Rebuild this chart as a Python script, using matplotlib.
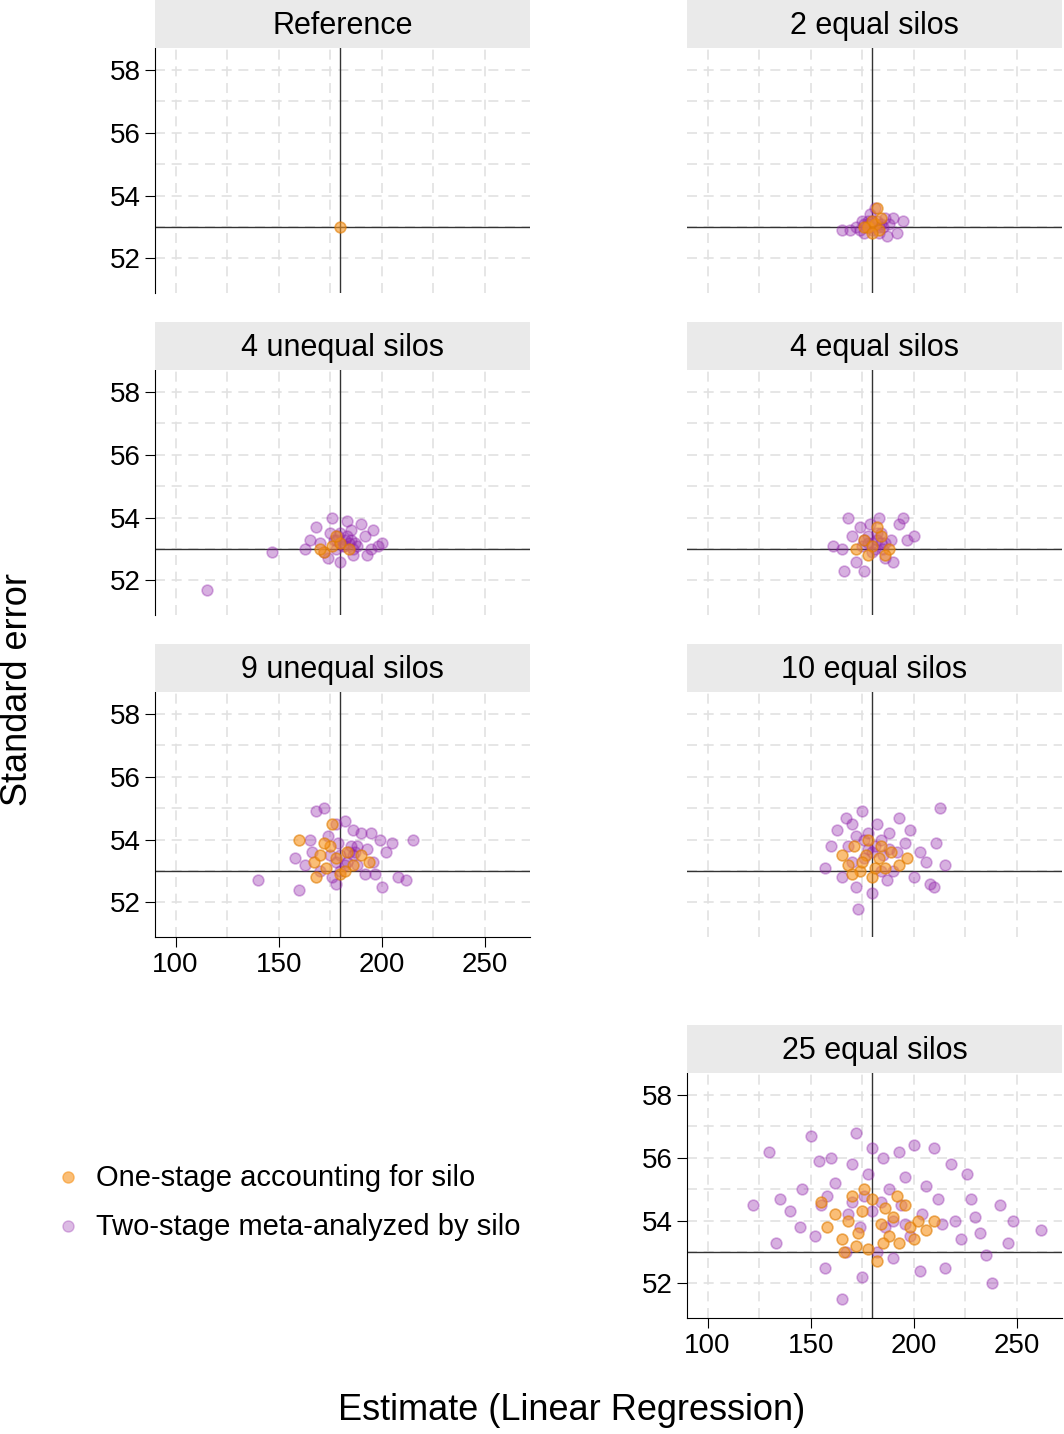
import matplotlib.pyplot as plt

plt.rcParams['font.family'] = ['Liberation Sans', 'DejaVu Sans']

titles = ['Reference', '2 equal silos', '4 unequal silos', '4 equal silos',
          '9 unequal silos', '10 equal silos', '25 equal silos']

# (estimate, standard error)
purple = {
    'Reference': [],
    '2 equal silos': [(172, 53.0), (175, 53.2), (178, 53.1), (180, 52.9), (182, 53.2), (185, 53.0),
                      (188, 53.1), (190, 53.3), (176, 52.8), (183, 52.8), (179, 53.4), (181, 53.6),
                      (169, 52.9), (192, 52.8), (186, 53.3), (174, 52.9), (177, 53.0), (184, 53.1),
                      (165, 52.9), (195, 53.2), (180, 53.0), (178, 53.2), (187, 52.7), (179, 53.0),
                      (181, 53.1), (183, 53.0), (176, 53.1), (180, 53.2)],
    '4 unequal silos': [(170, 53.2), (175, 53.5), (178, 53.0), (182, 53.3), (185, 53.6), (188, 53.1),
                        (192, 53.4), (195, 53.0), (198, 53.1), (168, 53.7), (172, 52.9), (180, 52.6),
                        (186, 52.8), (190, 53.8), (176, 54.0), (183, 53.9), (165, 53.3), (196, 53.6),
                        (174, 52.7), (181, 53.1), (184, 53.2), (179, 53.4), (177, 53.3), (187, 53.2),
                        (147, 52.9), (115, 51.7), (200, 53.2), (163, 53.0), (193, 52.8), (180, 53.2),
                        (182, 53.1), (185, 53.3), (178, 53.3), (183, 53.4), (180, 53.5), (186, 53.0)],
    '4 equal silos': [(165, 53.0), (170, 53.4), (174, 53.7), (178, 53.2), (182, 53.5), (185, 53.0),
                      (189, 53.3), (193, 53.8), (197, 53.3), (200, 53.4), (168, 54.0), (172, 52.6),
                      (176, 52.3), (180, 52.9), (186, 52.7), (190, 52.6), (161, 53.1), (166, 52.3),
                      (195, 54.0), (183, 54.0), (179, 53.8), (175, 53.1), (184, 53.2), (181, 53.0),
                      (180, 53.2), (182, 53.3), (178, 53.4), (184, 53.5), (176, 53.3), (186, 53.2)],
    '9 unequal silos': [(140, 52.7), (160, 52.4), (163, 53.2), (165, 54.0), (168, 54.9), (172, 55.0),
                        (175, 53.5), (178, 54.5), (180, 53.0), (182, 54.6), (185, 53.8), (188, 53.2),
                        (190, 54.2), (193, 53.7), (196, 53.3), (199, 54.0), (202, 53.6), (205, 53.9),
                        (208, 52.8), (212, 52.7), (215, 54.0), (200, 52.5), (178, 52.6), (170, 53.0),
                        (158, 53.4), (186, 54.3), (192, 52.9), (174, 54.1), (183, 53.3), (176, 52.8),
                        (195, 54.2), (166, 53.6), (187, 53.6), (179, 53.9), (197, 52.9), (180, 53.5),
                        (184, 53.6), (182, 53.2), (188, 53.8), (178, 53.3), (186, 53.5)],
    '10 equal silos': [(157, 53.1), (160, 53.8), (163, 54.3), (167, 54.7), (170, 53.3), (172, 52.5),
                       (175, 54.9), (178, 53.7), (180, 52.3), (182, 54.5), (185, 53.5), (188, 54.2),
                       (190, 53.0), (193, 54.7), (196, 53.9), (200, 52.8), (203, 53.6), (206, 53.3),
                       (210, 52.5), (213, 55.0), (215, 53.2), (173, 51.8), (165, 52.8), (178, 54.2),
                       (184, 53.0), (192, 53.6), (168, 53.8), (198, 54.3), (176, 53.4), (187, 52.7),
                       (181, 53.8), (170, 54.5), (208, 52.6), (211, 53.9), (180, 53.6), (184, 54.0),
                       (176, 54.0), (188, 53.7), (172, 54.1)],
    '25 equal silos': [(122, 54.5), (130, 56.2), (133, 53.3), (140, 54.3), (146, 55.0), (150, 56.7),
                       (152, 53.5), (155, 54.5), (157, 52.5), (160, 56.0), (162, 55.2), (165, 51.5),
                       (167, 53.0), (170, 55.8), (172, 56.8), (175, 52.2), (178, 55.5), (180, 56.3),
                       (182, 53.0), (185, 56.0), (188, 55.0), (190, 52.8), (193, 56.2), (196, 55.4),
                       (198, 53.5), (200, 56.4), (203, 52.4), (206, 55.1), (210, 56.3), (212, 54.7),
                       (215, 52.5), (218, 55.8), (220, 54.0), (223, 53.4), (226, 55.5), (230, 54.1),
                       (235, 52.9), (238, 52.0), (242, 54.5), (246, 53.3), (248, 54.0), (262, 53.7),
                       (145, 53.8), (158, 54.8), (168, 54.2), (176, 54.8), (186, 53.8), (194, 54.5),
                       (204, 54.2), (214, 53.9), (228, 54.7), (232, 53.6), (135, 54.7), (154, 55.9),
                       (180, 54.3), (184, 54.6), (190, 54.0), (174, 53.8), (196, 53.9), (170, 54.6)],
}

orange = {
    'Reference': [(180, 53.0)],
    '2 equal silos': [(178, 53.0), (181, 53.1), (183, 52.9), (180, 53.2), (176, 53.0), (184, 53.3),
                      (182, 53.6), (180, 52.8)],
    '4 unequal silos': [(172, 52.9), (176, 53.1), (180, 53.2), (184, 53.0), (178, 53.4), (170, 53.0)],
    '4 equal silos': [(172, 53.0), (176, 53.3), (180, 53.1), (184, 53.4), (188, 53.0), (178, 52.8),
                      (182, 53.7), (186, 52.8)],
    '9 unequal silos': [(160, 54.0), (167, 53.3), (170, 53.5), (173, 53.1), (176, 54.5), (178, 53.4),
                        (180, 52.9), (183, 53.6), (186, 53.2), (190, 53.5), (194, 53.3), (168, 52.8),
                        (175, 53.8), (182, 53.0), (172, 53.9)],
    '10 equal silos': [(165, 53.5), (168, 53.2), (171, 53.8), (174, 53.0), (177, 53.5), (180, 52.8),
                       (183, 53.4), (186, 53.1), (189, 53.6), (193, 53.2), (197, 53.4), (170, 52.9),
                       (178, 54.0), (184, 53.8), (175, 53.3), (181, 53.1)],
    '25 equal silos': [(155, 54.6), (158, 53.8), (162, 54.2), (165, 53.4), (168, 54.0), (170, 54.8),
                       (173, 53.6), (175, 54.3), (178, 53.1), (180, 54.7), (182, 52.7), (184, 53.9),
                       (186, 54.4), (188, 53.5), (190, 54.1), (193, 53.3), (196, 54.5), (198, 53.8),
                       (202, 54.0), (206, 53.7), (210, 54.0), (176, 55.0), (166, 53.0), (185, 53.3),
                       (192, 54.8), (172, 53.2), (200, 53.4)],
}

ref_x, ref_y = 180, 53
xticks = [100, 150, 200, 250]
yticks = [52, 54, 56, 58]

purple_c = '#8e1fa8'
orange_c = '#f7941d'

W, H = 1064, 1434
fig = plt.figure(figsize=(W / 100, H / 100), dpi=100)

boxes = {
    'Reference': (155, 48), '2 equal silos': (687, 48),
    '4 unequal silos': (155, 370), '4 equal silos': (687, 370),
    '9 unequal silos': (155, 692), '10 equal silos': (687, 692),
    '25 equal silos': (687, 1073),
}
pw, ph, sh = 375, 245, 48
show_y = {'Reference', '4 unequal silos', '9 unequal silos', '25 equal silos'}
show_x = {'9 unequal silos', '25 equal silos'}

for t in titles:
    l, top = boxes[t]
    ax = fig.add_axes([l / W, 1 - (top + ph) / H, pw / W, ph / H])
    sax = fig.add_axes([l / W, 1 - top / H, pw / W, sh / H])
    sax.set_facecolor('#eaeaea')
    sax.set_xticks([]); sax.set_yticks([])
    for s in sax.spines.values():
        s.set_visible(False)
    sax.text(0.5, 0.45, t, ha='center', va='center', fontsize=22)

    for g in range(100, 275, 25):
        ax.axvline(g, color='#e2e2e2', lw=1.2, ls=(0, (6, 4)), zorder=0)
    for g in range(52, 59):
        ax.axhline(g, color='#e2e2e2', lw=1.2, ls=(0, (6, 4)), zorder=0)
    ax.axvline(ref_x, color='#333333', lw=1, zorder=1)
    ax.axhline(ref_y, color='#333333', lw=1, zorder=1)

    p = purple[t]
    if p:
        ax.scatter([a for a, b in p], [b for a, b in p], s=60, facecolor=purple_c,
                   edgecolor=purple_c, alpha=0.35, lw=1.2, zorder=2)
    o = orange[t]
    ax.scatter([a for a, b in o], [b for a, b in o], s=60, facecolor=orange_c,
               edgecolor='#e07b00', alpha=0.6, lw=1.2, zorder=3)

    ax.set_xlim(90, 272)
    ax.set_ylim(50.9, 58.7)
    ax.set_xticks(xticks)
    ax.set_yticks(yticks)
    ax.tick_params(labelsize=20, length=7)
    for s in ['top', 'right']:
        ax.spines[s].set_visible(False)
    if t not in show_y:
        ax.spines['left'].set_visible(False)
        ax.tick_params(axis='y', left=False, labelleft=False)
    if t not in show_x:
        ax.spines['bottom'].set_visible(False)
        ax.tick_params(axis='x', bottom=False, labelbottom=False)

fig.text(18 / W, 1 - 690 / H, 'Standard error', rotation=90, ha='center', va='center', fontsize=26)
fig.text(572 / W, 1 - 1410 / H, 'Estimate (Linear Regression)', ha='center', va='center', fontsize=26)

fig.lines.append(plt.Line2D([68 / W], [1 - 1177 / H], marker='o', ms=8, color=orange_c,
                            alpha=0.6, ls='', transform=fig.transFigure))
fig.lines.append(plt.Line2D([68 / W], [1 - 1226 / H], marker='o', ms=8, color=purple_c,
                            alpha=0.3, ls='', transform=fig.transFigure))
fig.text(96 / W, 1 - 1178 / H, 'One-stage accounting for silo', va='center', fontsize=21)
fig.text(96 / W, 1 - 1227 / H, 'Two-stage meta-analyzed by silo', va='center', fontsize=21)

fig.savefig('out.png', dpi=100)
